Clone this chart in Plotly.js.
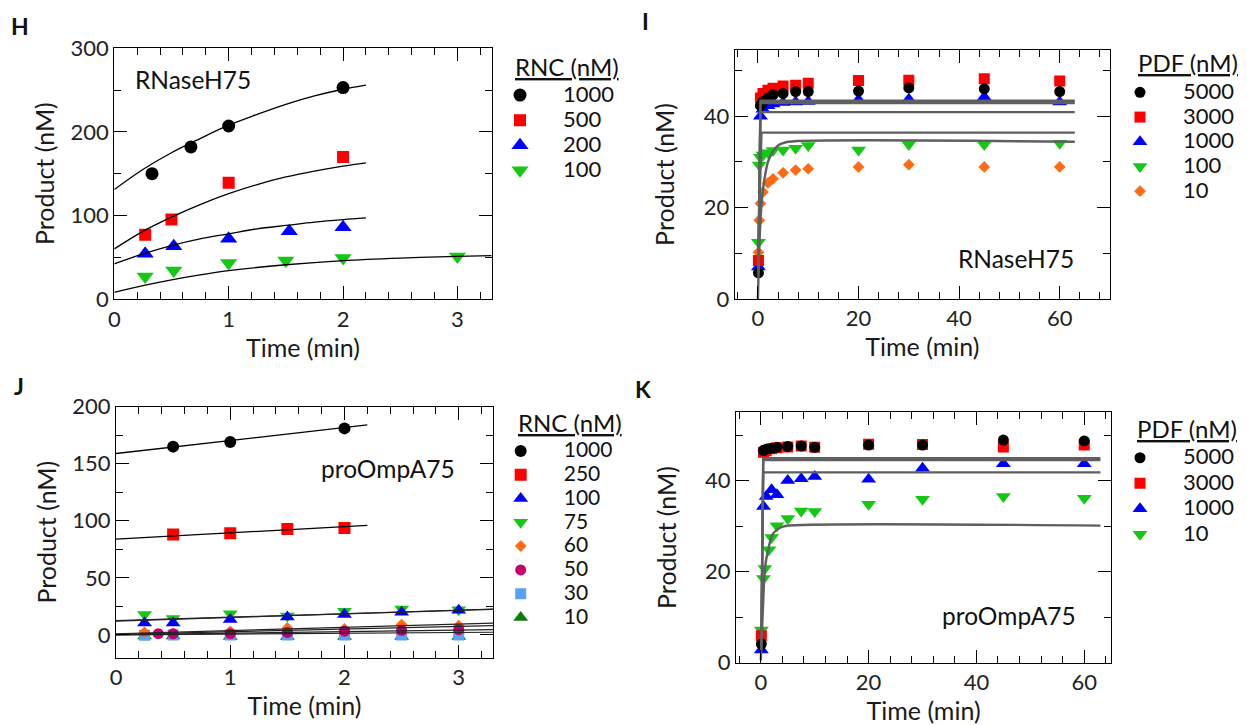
<!DOCTYPE html>
<html><head><meta charset="utf-8">
<script src="https://cdn.plot.ly/plotly-3.0.1.min.js"></script>
<style>html,body{margin:0;padding:0;background:#fff}#chart{width:1247px;height:725px}</style>
</head><body><div id="chart"></div>
<script>
// ---------- Panel H : RNaseH75, RNC titration ----------
const H_T_1000 = [0.33, 0.67, 1, 2];
const H_Y_1000 = [150, 182, 207, 253];
const H_T_500 = [0.27, 0.5, 1, 2];
const H_Y_500 = [77, 95, 139, 170];
const H_T_200 = [0.27, 0.52, 1, 1.53, 2];
const H_Y_200 = [54, 63, 72, 81, 86];
const H_T_100 = [0.27, 0.52, 1, 1.5, 2, 3];
const H_Y_100 = [27, 34, 43, 46, 49, 51];
const H_FIT_T = [0, 0.25, 0.5, 0.75, 1, 1.25, 1.5, 1.75, 2, 2.2];
const H_FIT_1000 = [131, 155, 175, 192, 208, 221, 233, 243, 251, 256];
const H_FIT_500 = [60, 81, 98, 113, 126, 137, 146, 153, 159, 163];
const H_FIT_200 = [42, 54, 64, 72, 78, 84, 88, 92, 95, 97];
const H_FIT100_T = [0, 0.25, 0.5, 0.75, 1, 1.5, 2, 2.5, 3, 3.3];
const H_FIT_100 = [8, 16, 23, 29, 34, 41, 46, 49, 51, 52];

// ---------- Panel I : RNaseH75, PDF titration ----------
const I_T = [0.1, 0.5, 1, 2, 3, 5, 7.5, 10, 20, 30, 45, 60];
const I_Y_5000 = [5.7, 42.3, 43.2, 44, 44.7, 45, 45.4, 45.4, 45.5, 46.2, 46, 45.4];
const I_Y_3000 = [8.4, 44, 45, 45.7, 46.1, 46.6, 46.8, 47.2, 47.8, 47.9, 48.2, 47.7];
const I_Y_1000 = [7, 40, 41.5, 42.3, 42.7, 43, 43.1, 43.2, 43.6, 43.7, 44.2, 43.1];
const I_T2 = [0.1, 0.25, 0.5, 1, 2, 3, 5, 7.5, 10, 20, 30, 45, 60];
const I_Y_100 = [12.4, 29.3, 31, 31.5, 32, 32.5, 32.6, 33, 33.6, 32.6, 33.8, 33.8, 34.1];
const I_Y_10 = [10.2, 17.2, 20.9, 23.4, 25.4, 26.3, 27.6, 28.2, 28.5, 28.9, 29.4, 28.9, 28.9];
const I_FIT_FAST_T = [0.1, 0.5, 63];
const I_FIT_5000 = [5.5, 43.4, 43.4];
const I_FIT_3000 = [8, 42.9, 42.9];
const I_FIT_1000 = [7, 40.9, 40.9];
const I_FIT100_T = [0.1, 0.7, 63];
const I_FIT_100 = [12, 36.4, 36.4];
const I_FIT10_T = [0, 0.3, 0.6, 1, 1.5, 2, 3, 4, 5, 6, 63];
const I_FIT_10 = [0, 12, 19, 24, 27.5, 30, 32.3, 33.6, 34.1, 34.4, 34.4];

// ---------- Panel J : proOmpA75, RNC titration ----------
const J_T_1000 = [0.5, 1, 2];
const J_Y_1000 = [165, 169, 181];
const J_T_250 = [0.5, 1, 1.5, 2];
const J_Y_250 = [88, 89, 92.7, 93.6];
const J_T = [0.25, 0.5, 1, 1.5, 2, 2.5, 3];
const J_Y_100 = [10.5, 10.5, 13.4, 15.7, 17.8, 19.8, 21.5];
const J_Y_75 = [17.8, 14.3, 18.6, 16.5, 20.7, 22.7, 22];
const J_Y_60 = [2.3, 1.2, 3.2, 6.1, 5.2, 9, 8.1];
const J_T_50 = [0.37, 0.5, 1, 1.5, 2, 2.5, 3];
const J_Y_50 = [1.1, 1, 1.1, 2, 3.2, 4, 4.6];
const J_Y_30 = [-0.3, 0, 0, 0, 0, 0, 0];
const J_Y_10 = [-1, -1, -1.5, -1.5, -1.5, -1.5, -1.5];
const J_FIT_SHORT_T = [0, 2.2];
const J_FIT_1000 = [159, 184];
const J_FIT_250 = [84, 96];
const J_FIT_LONG_T = [0, 3.3];
const J_FIT_100 = [12, 22.7];
const J_FIT_75 = [12.5, 22.3];
const J_FIT_60 = [1, 10.3];
const J_FIT_50 = [0.5, 8.1];
const J_FIT_30 = [0, 2.3];
const J_FIT_10 = [0, 4.6];

// ---------- Panel K : proOmpA75, PDF titration ----------
const K_T = [0.1, 0.5, 1, 2, 3, 5, 7.5, 10, 20, 30, 45, 60];
const K_Y_5000 = [4.1, 46.6, 46.9, 47.1, 47.3, 47.5, 47.6, 47.3, 47.8, 47.8, 48.9, 48.7];
const K_Y_3000 = [5.9, 46.2, 46.6, 47, 47.2, 47.4, 47.6, 47.3, 48, 47.9, 47.4, 47.8];
const K_Y_1000 = [2.8, 34.3, 36.5, 38, 36.9, 40, 40.4, 40.9, 40.3, 42.7, 43.7, 43.7];
const K_T_10 = [0.1, 0.5, 0.75, 1.5, 2, 3, 5, 7.5, 10, 20, 30, 45, 60];
const K_Y_10 = [7.2, 18.5, 20.7, 24.8, 27.5, 30.1, 31.7, 33.3, 33.2, 34.8, 35.9, 36.5, 36.1];
const K_FIT_FAST_T = [0.1, 0.45, 63];
const K_FIT_5000 = [4, 44.9, 44.9];
const K_FIT_3000 = [6, 44.5, 44.5];
const K_FIT_1000 = [3, 41.8, 41.8];
const K_FIT10_T = [0, 0.4, 0.8, 1.4, 2.3, 3.9, 5, 63];
const K_FIT_10 = [0.5, 12, 21, 25, 28.4, 29.8, 30.1, 30.1];

const C = {black:'#000000', red:'#ff0000', blue:'#0000ff', green:'#14c814', orange:'#ff6a10',
           magenta:'#c8006e', lightblue:'#5aa0f5', darkgreen:'#0a7d0a'};
const FIT_GRAY = 'rgb(95,95,95)';

function pts(x, y, name, color, symbol, size, n, legend, rank, fs) {
  return {type:'scatter', mode:'markers', x:x, y:y,
    name:'<span style="font-size:' + (fs || 22) + 'px">' + name + '</span>',
    marker:{color:color, symbol:symbol, size:size, line:{width:0}},
    xaxis:'x'+n, yaxis:'y'+n, legend:legend, legendrank:rank, hoverinfo:'x+y'};
}
function fit(x, y, n, color, width, shape) {
  return {type:'scatter', mode:'lines', x:x, y:y, showlegend:false, hoverinfo:'skip',
    line:{color:color, width:width, shape:shape || 'linear', smoothing:1},
    xaxis:'x'+n, yaxis:'y'+n};
}

const traces = [
  // H
  pts(H_T_1000, H_Y_1000, '1000', C.black, 'circle', 13, '', 'legend', 1),
  pts(H_T_500, H_Y_500, '500', C.red, 'square', 12, '', 'legend', 2),
  pts(H_T_200, H_Y_200, '200', C.blue, 'triangle-up', 15, '', 'legend', 3),
  pts(H_T_100, H_Y_100, '100', C.green, 'triangle-down', 15, '', 'legend', 4),
  fit(H_FIT_T, H_FIT_1000, '', '#000', 1.3, 'spline'),
  fit(H_FIT_T, H_FIT_500, '', '#000', 1.3, 'spline'),
  fit(H_FIT_T, H_FIT_200, '', '#000', 1.3, 'spline'),
  fit(H_FIT100_T, H_FIT_100, '', '#000', 1.3, 'spline'),
  // I
  pts(I_T2, I_Y_10, '10', C.orange, 'diamond', 9, '2', 'legend2', 5),
  pts(I_T2, I_Y_100, '100', C.green, 'triangle-down', 13, '2', 'legend2', 4),
  pts(I_T, I_Y_1000, '1000', C.blue, 'triangle-up', 13, '2', 'legend2', 3),
  pts(I_T, I_Y_3000, '3000', C.red, 'square', 11, '2', 'legend2', 2),
  pts(I_T, I_Y_5000, '5000', C.black, 'circle', 11, '2', 'legend2', 1),
  fit(I_FIT_FAST_T, I_FIT_5000, '2', FIT_GRAY, 2.4),
  fit(I_FIT_FAST_T, I_FIT_3000, '2', FIT_GRAY, 2.4),
  fit(I_FIT_FAST_T, I_FIT_1000, '2', FIT_GRAY, 2.4),
  fit(I_FIT100_T, I_FIT_100, '2', FIT_GRAY, 2.4),
  fit(I_FIT10_T, I_FIT_10, '2', FIT_GRAY, 2.4, 'spline'),
  // J
  pts(J_T, J_Y_10, '10', C.darkgreen, 'triangle-up', 13, '3', 'legend3', 8, 21),
  pts(J_T, J_Y_30, '30', C.lightblue, 'square', 11, '3', 'legend3', 7, 21),
  pts(J_T, J_Y_75, '75', C.green, 'triangle-down', 13, '3', 'legend3', 4, 21),
  pts(J_T, J_Y_100, '100', C.blue, 'triangle-up', 13, '3', 'legend3', 3, 21),
  pts(J_T, J_Y_60, '60', C.orange, 'diamond', 9, '3', 'legend3', 5, 21),
  pts(J_T_50, J_Y_50, '50', C.magenta, 'circle', 11, '3', 'legend3', 6, 21),
  pts(J_T_250, J_Y_250, '250', C.red, 'square', 12, '3', 'legend3', 2, 21),
  pts(J_T_1000, J_Y_1000, '1000', C.black, 'circle', 12, '3', 'legend3', 1, 21),
  fit(J_FIT_SHORT_T, J_FIT_1000, '3', '#000', 1.3),
  fit(J_FIT_SHORT_T, J_FIT_250, '3', '#000', 1.3),
  fit(J_FIT_LONG_T, J_FIT_100, '3', '#222', 1.2),
  fit(J_FIT_LONG_T, J_FIT_75, '3', '#222', 1.2),
  fit(J_FIT_LONG_T, J_FIT_60, '3', '#222', 1.2),
  fit(J_FIT_LONG_T, J_FIT_50, '3', '#222', 1.2),
  fit(J_FIT_LONG_T, J_FIT_30, '3', '#222', 1.2),
  fit(J_FIT_LONG_T, J_FIT_10, '3', '#222', 1.2),
  // K
  pts(K_T_10, K_Y_10, '10', C.green, 'triangle-down', 13, '4', 'legend4', 4),
  pts(K_T, K_Y_1000, '1000', C.blue, 'triangle-up', 13, '4', 'legend4', 3),
  pts(K_T, K_Y_3000, '3000', C.red, 'square', 11, '4', 'legend4', 2),
  pts(K_T, K_Y_5000, '5000', C.black, 'circle', 11, '4', 'legend4', 1),
  fit(K_FIT_FAST_T, K_FIT_5000, '4', FIT_GRAY, 2.4),
  fit(K_FIT_FAST_T, K_FIT_3000, '4', FIT_GRAY, 2.4),
  fit(K_FIT_FAST_T, K_FIT_1000, '4', FIT_GRAY, 2.4),
  fit(K_FIT10_T, K_FIT_10, '4', FIT_GRAY, 2.4, 'spline')
];

const W = 1247, HGT = 725;
function dx(a, b) { return [a / W, b / W]; }
function dy(top, bottom) { return [1 - bottom / HGT, 1 - top / HGT]; }

function axis(domain, range, dtick, minor, anchor, title, standoff) {
  return {domain:domain, range:range, dtick:dtick, tick0:0, anchor:anchor,
    showline:true, linecolor:'#000', linewidth:1.3, mirror:'ticks',
    ticks:'inside', ticklen:13, tickwidth:1.3, tickcolor:'#000',
    minor:{dtick:minor, tick0:0, ticks:'inside', ticklen:7, tickwidth:1.3, tickcolor:'#000', showgrid:false},
    showgrid:false, zeroline:false,
    tickfont:{size:22, color:'#222'},
    title:{text:title, standoff:standoff, font:{size:25, color:'#1a1a1a'}}};
}

function legendAt(x, y, size) {
  return {x:x, y:y, xanchor:'left', yanchor:'top', bgcolor:'rgba(0,0,0,0)', borderwidth:0,
    font:{size:size, color:'#111'}, itemwidth:76, tracegroupgap:0, itemclick:false, itemdoubleclick:false};
}

function note(text, xr, yr, x, y, xanchor, size, bold, under) {
  const f = {size:size, color:'#111'};
  if (bold) f.weight = 'bold';
  if (under) f.lineposition = 'under';
  return {text:text, xref:xr, yref:yr, x:x, y:y, xanchor:xanchor, yanchor:'middle',
    showarrow:false, font:f};
}

const layout = {
  width:W, height:HGT, margin:{l:0, r:0, t:0, b:0},
  paper_bgcolor:'#fff', plot_bgcolor:'rgba(0,0,0,0)',
  font:{family:'Lato, "Open Sans", sans-serif', color:'#1a1a1a'},
  xaxis: axis(dx(114.3, 491.7), [0, 3.3], 1, 0.2, 'y', 'Time (min)', 4),
  yaxis: axis(dy(48.3, 299), [0, 300], 100, 50, 'x', 'Product (nM)'),
  xaxis2: axis(dx(734.8, 1110), [-4.6, 70], 20, 4, 'y2', 'Time (min)', 4),
  yaxis2: axis(dy(50, 298.9), [0, 54.5], 20, 10, 'x2', 'Product (nM)'),
  xaxis3: axis(dx(116, 493), [0, 3.3], 1, 0.2, 'y3', 'Time (min)', 4),
  yaxis3: axis(dy(406.7, 657.7), [-20, 200], 50, 25, 'x3', 'Product (nM)'),
  xaxis4: axis(dx(736, 1111.2), [-4.6, 65], 20, 4, 'y4', 'Time (min)', 4),
  yaxis4: axis(dy(412.3, 662.7), [0, 55], 20, 10, 'x4', 'Product (nM)'),
  legend: legendAt(477 / W, 1 - 77.5 / HGT, 17),
  legend2: legendAt(1097 / W, 1 - 75 / HGT, 16.7),
  legend3: legendAt(477.7 / W, 1 - 434 / HGT, 16),
  legend4: legendAt(1097 / W, 1 - 440 / HGT, 17.3),
  showlegend:true,
  annotations: [
    note('H', 'paper', 'paper', 20 / W, 1 - 26 / HGT, 'center', 23, true),
    note('I', 'paper', 'paper', 645 / W, 1 - 21 / HGT, 'center', 23, true),
    note('J', 'paper', 'paper', 19 / W, 1 - 386 / HGT, 'center', 23, true),
    note('K', 'paper', 'paper', 643 / W, 1 - 389 / HGT, 'center', 23, true),
    note('RNaseH75', 'x domain', 'y domain', 0.05, 0.874, 'left', 24.5),
    note('RNaseH75', 'x2 domain', 'y2 domain', 0.909, 0.164, 'right', 24.5),
    note('proOmpA75', 'x3 domain', 'y3 domain', 0.539, 0.755, 'left', 24.5),
    note('proOmpA75', 'x4 domain', 'y4 domain', 0.911, 0.19, 'right', 24.5),
    note('RNC (nM)', 'paper', 'paper', 512.7 / W, 1 - 66 / HGT, 'left', 24, false, true),
    note('PDF (nM)', 'paper', 'paper', 1136 / W, 1 - 63 / HGT, 'left', 24, false, true),
    note('RNC (nM)', 'paper', 'paper', 516 / W, 1 - 422 / HGT, 'left', 24, false, true),
    note('PDF (nM)', 'paper', 'paper', 1135 / W, 1 - 428 / HGT, 'left', 24, false, true)
  ]
};

Plotly.newPlot('chart', traces, layout, {displayModeBar:false, responsive:false});
</script>
</body></html>
